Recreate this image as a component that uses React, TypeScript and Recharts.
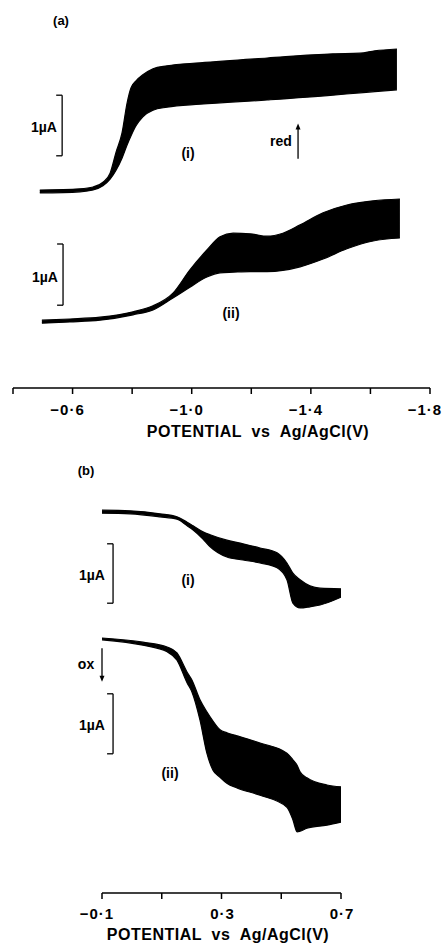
import { Area, ComposedChart, ReferenceDot, ReferenceLine, XAxis, YAxis } from "recharts";

// panel (a): reduction polarograms, potential in V, current in µA (offset stack)
const aPotI = [-0.49, -0.625, -0.669, -0.702, -0.726, -0.746, -0.766, -0.783, -0.796, -0.813, -0.836, -0.87, -0.917, -1.028, -1.253, -1.474, -1.565, -1.615, -1.689];
const aHiI = [3.3, 3.32, 3.35, 3.43, 3.58, 3.93, 4.25, 4.75, 5.0, 5.12, 5.22, 5.32, 5.37, 5.42, 5.5, 5.57, 5.58, 5.62, 5.65];
const aLoI = [3.25, 3.27, 3.3, 3.37, 3.48, 3.63, 3.83, 4.05, 4.2, 4.37, 4.52, 4.63, 4.68, 4.73, 4.8, 4.88, 4.92, 4.94, 4.97];

const aPotII = [-0.497, -0.591, -0.692, -0.803, -0.87, -0.937, -0.994, -1.051, -1.095, -1.139, -1.196, -1.253, -1.306, -1.364, -1.441, -1.521, -1.609, -1.699];
const aHiII = [1.13, 1.15, 1.18, 1.27, 1.37, 1.58, 1.97, 2.3, 2.52, 2.58, 2.57, 2.53, 2.58, 2.72, 2.92, 3.05, 3.12, 3.15];
const aLoII = [1.08, 1.1, 1.13, 1.22, 1.3, 1.5, 1.68, 1.85, 1.92, 1.93, 1.94, 1.94, 1.96, 2.02, 2.15, 2.32, 2.45, 2.5];

const aTicks = [-0.4, -0.6, -0.8, -1.0, -1.2, -1.4, -1.6, -1.8];
const aTickLabels = ["", "\u22120\u00b76", "", "\u22121\u00b70", "", "\u22121\u00b74", "", "\u22121\u00b78"];

// panel (b): oxidation polarograms
const bPotI = [-0.1, -0.006, 0.094, 0.151, 0.185, 0.205, 0.238, 0.262, 0.318, 0.372, 0.429, 0.486, 0.519, 0.539, 0.563, 0.596, 0.63, 0.7];
const bHiI = [6.38, 6.37, 6.32, 6.27, 6.18, 6.12, 6.02, 5.97, 5.88, 5.82, 5.75, 5.67, 5.5, 5.33, 5.22, 5.12, 5.08, 5.07];
const bLoI = [6.33, 6.32, 6.27, 6.23, 6.12, 6.05, 5.9, 5.77, 5.6, 5.55, 5.5, 5.42, 5.22, 4.83, 4.75, 4.77, 4.8, 4.93];

const bPotII = [-0.1, 0.037, 0.118, 0.151, 0.185, 0.201, 0.228, 0.251, 0.271, 0.295, 0.318, 0.352, 0.429, 0.519, 0.539, 0.553, 0.563, 0.586, 0.653, 0.7];
const bHiII = [4.25, 4.18, 4.1, 4.0, 3.68, 3.55, 3.22, 3.02, 2.87, 2.72, 2.67, 2.62, 2.5, 2.33, 2.22, 2.13, 2.02, 1.92, 1.8, 1.77];
const bLoII = [4.22, 4.13, 4.02, 3.88, 3.5, 3.35, 2.88, 2.33, 2.05, 1.93, 1.83, 1.75, 1.63, 1.43, 1.22, 1.02, 1.03, 1.08, 1.13, 1.18];

const bTicks = [-0.1, 0.1, 0.3, 0.5, 0.7];
const bTickLabels = ["\u22120\u00b71", "", "0\u00b73", "", "0\u00b77"];

const FONT = '"Liberation Sans", Arial, sans-serif';

const toBand = (pot: number[], lo: number[], hi: number[]) =>
  pot.map((v, i) => ({ v, band: [lo[i], hi[i]] }));

const makeTick = (ticks: number[], labels: string[]) => (props: any) => {
  const { x, y, payload } = props;
  const idx = ticks.findIndex((t) => Math.abs(t - payload.value) < 1e-6);
  const label = labels[idx] ?? "";
  if (!label) return <g />;
  const neg = label.startsWith("\u2212");
  return (
    <text
      x={x}
      y={y}
      dy="0.71em"
      dx={neg ? -5 : 1}
      textAnchor="middle"
      fill="#000"
      fontFamily={FONT}
      fontWeight="bold"
      fontSize={15}
      letterSpacing={1}
    >
      {label}
    </text>
  );
};

const arrowHead = (dir: "up" | "down") => (p: any) => {
  const { cx, cy } = p;
  const d =
    dir === "up"
      ? `M${cx - 2.5},${cy + 6} L${cx},${cy} L${cx + 2.5},${cy + 6} Z`
      : `M${cx - 2.5},${cy - 6} L${cx},${cy} L${cx + 2.5},${cy - 6} Z`;
  return <path d={d} fill="#000" />;
};

const label = (text: string, cx: number, cy: number, size = 14, spacing = 0) => (
  <div
    key={`${text}-${cx}-${cy}`}
    style={{
      position: "absolute",
      left: cx,
      top: cy,
      transform: "translate(-50%, -50%)",
      fontFamily: FONT,
      fontWeight: "bold",
      fontSize: size,
      letterSpacing: spacing,
      whiteSpace: "pre",
      lineHeight: 1,
      color: "#000",
    }}
  >
    {text}
  </div>
);

// 1 µA scale bracket "]"
const bar = (x: number, x2: number, top: number, bottom: number, key: string) => [
  <ReferenceLine key={key + "v"} segment={[{ x, y: top }, { x, y: bottom }]} stroke="#000" strokeWidth={1.3} />,
  <ReferenceLine key={key + "t"} segment={[{ x: x2, y: top }, { x, y: top }]} stroke="#000" strokeWidth={1.3} />,
  <ReferenceLine key={key + "b"} segment={[{ x: x2, y: bottom }, { x, y: bottom }]} stroke="#000" strokeWidth={1.3} />,
];

const areaProps = {
  dataKey: "band",
  type: "monotone" as const,
  fill: "#000",
  fillOpacity: 1,
  stroke: "#000",
  strokeWidth: 1.2,
  isAnimationActive: false,
};

export default function App() {
  const aI = toBand(aPotI, aLoI, aHiI);
  const aII = toBand(aPotII, aLoII, aHiII);
  const bI = toBand(bPotI, bLoI, bHiI);
  const bII = toBand(bPotII, bLoII, bHiII);

  return (
    <div style={{ position: "absolute", left: 0, top: 0, width: 445, height: 943, background: "#fff" }}>
      <div style={{ position: "absolute", left: 0, top: 0 }}>
        <ComposedChart width={445} height={450} margin={{ top: 28, right: 15, left: 13, bottom: 0 }}>
          <XAxis
            type="number"
            dataKey="v"
            domain={[-1.8, -0.4]}
            reversed
            ticks={aTicks}
            interval={0}
            height={62}
            tickSize={6}
            tickMargin={10}
            axisLine={{ stroke: "#000", strokeWidth: 1.5 }}
            tickLine={{ stroke: "#000", strokeWidth: 1.5 }}
            tick={makeTick(aTicks, aTickLabels)}
            allowDataOverflow
          />
          <YAxis type="number" domain={[0, 6]} hide width={0} allowDataOverflow />
          <Area data={aI} {...areaProps} />
          <Area data={aII} {...areaProps} />
          {bar(-0.565, -0.545, 4.88, 3.87, "ai")}
          {bar(-0.568, -0.548, 2.4, 1.38, "aii")}
          <ReferenceLine segment={[{ x: -1.357, y: 3.82 }, { x: -1.357, y: 4.35 }]} stroke="#000" strokeWidth={1.3} />
          <ReferenceDot x={-1.357} y={4.41} r={3} shape={arrowHead("up")} />
        </ComposedChart>
      </div>
      <div style={{ position: "absolute", left: 0, top: 450 }}>
        <ComposedChart width={445} height={493} margin={{ top: 23, right: 104, left: 102, bottom: 0 }}>
          <XAxis
            type="number"
            dataKey="v"
            domain={[-0.1, 0.7]}
            ticks={bTicks}
            interval={0}
            height={50}
            tickSize={6}
            tickMargin={9}
            axisLine={{ stroke: "#000", strokeWidth: 1.5 }}
            tickLine={{ stroke: "#000", strokeWidth: 1.5 }}
            tick={makeTick(bTicks, bTickLabels)}
            allowDataOverflow
          />
          <YAxis type="number" domain={[0, 7]} hide width={0} allowDataOverflow />
          <Area data={bI} {...areaProps} />
          <Area data={bII} {...areaProps} />
          {bar(-0.063, -0.083, 5.82, 4.83, "bi")}
          {bar(-0.063, -0.083, 3.32, 2.32, "bii")}
          <ReferenceLine segment={[{ x: -0.1, y: 4.08 }, { x: -0.1, y: 3.58 }]} stroke="#000" strokeWidth={1.3} />
          <ReferenceDot x={-0.1} y={3.52} r={3} shape={arrowHead("down")} />
        </ComposedChart>
      </div>
      {label("(a)", 61, 20, 13)}
      {label("1\u00b5A", 44, 127)}
      {label("(i)", 188, 153)}
      {label("red", 281, 141)}
      {label("1\u00b5A", 45, 277)}
      {label("(ii)", 231, 313)}
      {label("POTENTIAL  vs  Ag/AgCl(V)", 258, 432, 16, 0.5)}
      {label("(b)", 86, 470, 13)}
      {label("1\u00b5A", 92, 575)}
      {label("(i)", 188, 580)}
      {label("ox", 86, 664)}
      {label("1\u00b5A", 92, 725)}
      {label("(ii)", 170, 773)}
      {label("POTENTIAL  vs  Ag/AgCl(V)", 218, 935, 16, 0.5)}
    </div>
  );
}
